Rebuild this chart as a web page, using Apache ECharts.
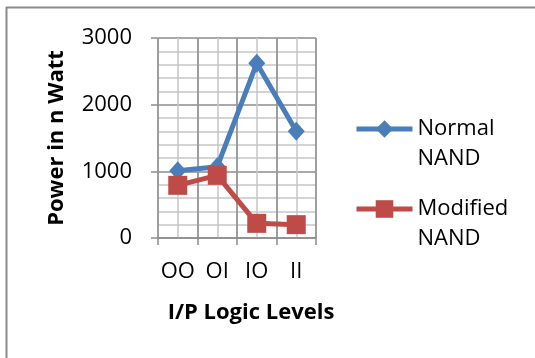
<!DOCTYPE html>
<html>
<head>
<meta charset="utf-8">
<script src="https://cdn.jsdelivr.net/npm/echarts@6/dist/echarts.min.js"></script>
<style>
  html, body { margin: 0; padding: 0; background: #fff; }
  #chart { width: 535px; height: 358px; }
</style>
</head>
<body>
<div id="chart"></div>
<script>
// Input logic levels and measured power (nW) for both gate variants
const categories = ['OO', 'OI', 'IO', 'II'];
const normalNand = [1010, 1070, 2620, 1600];
const modifiedNand = [790, 940, 220, 200];
const seriesNames = ['Normal NAND', 'Modified NAND'];
const yTicks = { min: 0, max: 3000, step: 1000 };

const FONT = '"Open Sans", "Liberation Sans", sans-serif';
const BLUE = '#4A7EBB';
const RED = '#BE4B48';
const MAJOR = '#8C8C8C';
const MINOR = '#C6C6C6';

const chart = echarts.init(document.getElementById('chart'), null, { renderer: 'canvas' });

const legendText = {
  fontFamily: FONT,
  fontSize: 22,
  color: '#000',
  lineHeight: 30
};

// Each legend entry wraps onto two lines; a leading blank line keeps the
// first word level with the icon.
function makeLegend(name, top) {
  return {
    data: [name], left: 354, top: top, padding: 0, orient: 'vertical',
    itemWidth: 56, itemHeight: 22,
    lineStyle: { width: 5 },
    formatter: n => '\n' + n.replace(' ', '\n'),
    textStyle: legendText
  };
}

chart.setOption({
  animation: false,
  backgroundColor: '#fff',
  grid: { left: 158, right: 219, top: 38, bottom: 120, containLabel: false },
  xAxis: [
    {
      // light lines through each category centre
      type: 'value', position: 'top', min: 0, max: categories.length * 2, interval: 1,
      axisLine: { show: false }, axisTick: { show: false }, axisLabel: { show: false },
      splitLine: { show: true, lineStyle: { color: MINOR, width: 1.5 } }
    },
    {
      type: 'category', position: 'bottom',
      data: categories,
      boundaryGap: true,
      axisLine: { show: true, lineStyle: { color: MAJOR, width: 1.5 } },
      axisTick: { show: true, alignWithLabel: false, interval: 0, length: 7, lineStyle: { color: MAJOR, width: 1.5 } },
      axisLabel: { interval: 0, fontFamily: FONT, fontSize: 22, color: '#000', margin: 23 },
      splitLine: { show: true, interval: 0, lineStyle: { color: MAJOR, width: 1.5 } }
    }
  ],
  yAxis: {
    type: 'value',
    min: yTicks.min, max: yTicks.max, interval: yTicks.step,
    axisLine: { show: false },
    axisTick: { show: true, length: 7, lineStyle: { color: MAJOR, width: 1.5 } },
    axisLabel: { fontFamily: FONT, fontSize: 22, color: '#000', margin: 26, formatter: v => String(v) },
    splitLine: { show: true, lineStyle: { color: MAJOR, width: 1.5 } },
    minorTick: { show: false, splitNumber: 5 },
    minorSplitLine: { show: true, lineStyle: { color: MINOR, width: 1.5 } }
  },
  legend: [makeLegend(seriesNames[0], 84), makeLegend(seriesNames[1], 164)],
  series: [
    {
      name: seriesNames[0], type: 'line', xAxisIndex: 1, data: normalNand,
      symbol: 'diamond', symbolSize: [17, 19],
      lineStyle: { color: BLUE, width: 5 },
      itemStyle: { color: BLUE }
    },
    {
      name: seriesNames[1], type: 'line', xAxisIndex: 1, data: modifiedNand,
      symbol: 'rect', symbolSize: 19,
      lineStyle: { color: RED, width: 5 },
      itemStyle: { color: RED }
    }
  ],
  graphic: [
    { type: 'line', shape: { x1: 6, y1: 7.5, x2: 535, y2: 7.5 }, style: { stroke: '#8A8A8A', lineWidth: 2 } },
    { type: 'line', shape: { x1: 6.5, y1: 7, x2: 6.5, y2: 358 }, style: { stroke: '#8A8A8A', lineWidth: 2 } },
    {
      type: 'text', x: 57, y: 138, rotation: Math.PI / 2,
      style: { text: 'Power in n Watt', fontFamily: FONT, fontWeight: 'bold', fontSize: 22, fill: '#000', align: 'center', verticalAlign: 'middle' }
    },
    {
      type: 'text', x: 251, y: 313,
      style: { text: 'I/P Logic Levels', fontFamily: FONT, fontWeight: 'bold', fontSize: 22, fill: '#000', align: 'center', verticalAlign: 'middle' }
    }
  ]
});
</script>
</body>
</html>
